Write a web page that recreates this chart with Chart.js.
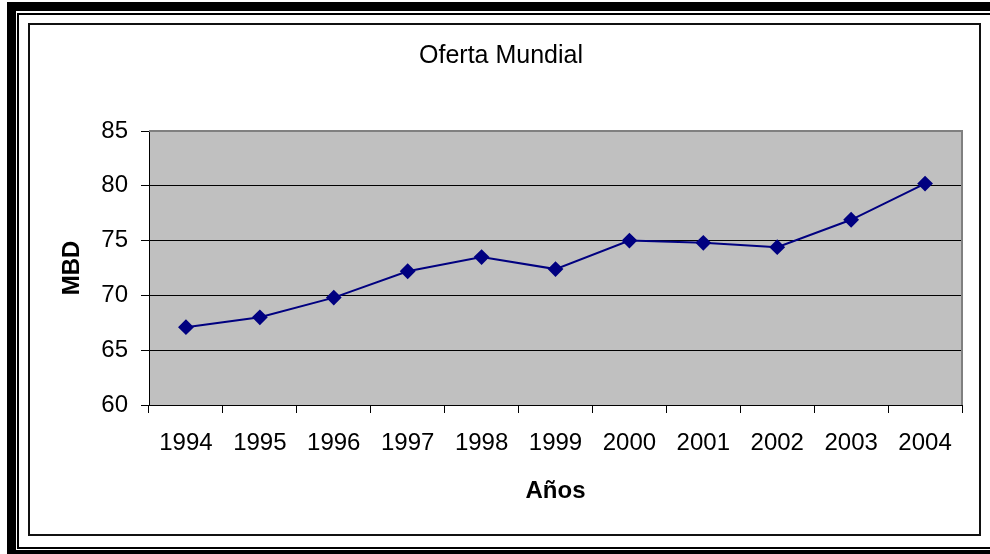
<!DOCTYPE html>
<html lang="es">
<head>
    <meta charset="UTF-8">
    <title>Oferta Mundial</title>
    <style>
        body {
            margin: 0;
            background-color: #FFFFFF;
        }
        #chartBox {
            width: 990px;
            height: 554px;
        }
    </style>
    <script src="https://cdn.jsdelivr.net/npm/chart.js"></script>
</head>
<body>
    <div id="chartBox">
        <canvas id="myChart" width="990" height="554"></canvas>
    </div>

    <script>
        // Datos del gráfico
        var anios = ['1994', '1995', '1996', '1997', '1998', '1999', '2000', '2001', '2002', '2003', '2004'];
        var oferta = [67.1, 68.0, 69.8, 72.2, 73.5, 72.4, 75.0, 74.8, 74.4, 76.9, 80.2];
        var yTicks = [60, 65, 70, 75, 80, 85];

        var fuente = '"Liberation Sans", Arial, sans-serif';

        // Marco de la página y fondo gris del área de trazado
        var marcoPlugin = {
            id: 'marco',
            beforeDraw: function(chart) {
                var ctx = chart.ctx;
                var a = chart.chartArea;
                ctx.save();
                ctx.fillStyle = '#FFFFFF';
                ctx.fillRect(0, 0, chart.width, chart.height);

                // borde grueso exterior
                ctx.fillStyle = '#000000';
                ctx.fillRect(7, 2, chart.width - 7, 9);
                ctx.fillRect(7, 2, 9, chart.height - 2);
                ctx.fillRect(7, 550, chart.width - 7, 4);
                // línea fina
                ctx.fillRect(17, 13, chart.width - 17, 2);
                ctx.fillRect(17, 13, 2, 536);
                ctx.fillRect(17, 547, chart.width - 17, 2);
                // marco interior
                ctx.lineWidth = 2;
                ctx.strokeStyle = '#111111';
                ctx.strokeRect(29, 24, 951, 511);

                ctx.fillStyle = '#C0C0C0';
                ctx.fillRect(a.left, a.top, a.right - a.left, a.bottom - a.top);
                ctx.restore();
            },
            beforeDatasetsDraw: function(chart) {
                var ctx = chart.ctx;
                var a = chart.chartArea;
                ctx.save();
                ctx.strokeStyle = '#808080';
                ctx.lineWidth = 2;
                ctx.beginPath();
                ctx.moveTo(a.left, a.top);
                ctx.lineTo(a.right, a.top);
                ctx.lineTo(a.right, a.bottom);
                ctx.stroke();
                ctx.restore();
            }
        };

        var ctx = document.getElementById('myChart').getContext('2d');
        var myChart = new Chart(ctx, {
            type: 'line',
            data: {
                labels: anios,
                datasets: [{
                    label: 'Oferta Mundial',
                    data: oferta,
                    borderColor: '#000080',
                    backgroundColor: '#000080',
                    borderWidth: 2,
                    fill: false,
                    tension: 0,
                    pointStyle: 'rectRot',
                    pointRadius: 6.5,
                    pointHoverRadius: 6.5,
                    pointBackgroundColor: '#000080',
                    pointBorderColor: '#000080'
                }]
            },
            plugins: [marcoPlugin],
            options: {
                responsive: false,
                animation: false,
                layout: {
                    padding: { left: 40, right: 28, top: 24, bottom: 48 }
                },
                plugins: {
                    legend: { display: false },
                    tooltip: { enabled: false },
                    title: {
                        display: true,
                        text: 'Oferta Mundial',
                        color: '#000000',
                        font: { family: fuente, size: 25, weight: 'normal' },
                        padding: { top: 17, bottom: 60 }
                    }
                },
                scales: {
                    x: {
                        offset: true,
                        grid: {
                            offset: true,
                            drawOnChartArea: false,
                            drawTicks: true,
                            tickLength: 8,
                            tickColor: '#000000'
                        },
                        border: { color: '#000000', width: 1 },
                        ticks: {
                            color: '#000000',
                            font: { family: fuente, size: 24 },
                            padding: 16,
                            maxRotation: 0,
                            autoSkip: false
                        },
                        title: {
                            display: true,
                            text: 'Años',
                            color: '#000000',
                            font: { family: fuente, size: 24, weight: 'bold' },
                            padding: { top: 0, bottom: 0 }
                        },
                        afterFit: function(scale) {
                            scale.height = 101;
                        }
                    },
                    y: {
                        min: yTicks[0],
                        max: yTicks[yTicks.length - 1],
                        grid: {
                            color: function(c) {
                                return c.tick && c.tick.value === 85 ? '#808080' : '#000000';
                            },
                            lineWidth: 1,
                            tickLength: 8,
                            tickColor: '#000000'
                        },
                        border: { color: '#000000', width: 1 },
                        afterBuildTicks: function(scale) {
                            scale.ticks = yTicks.map(function(v) { return { value: v }; });
                        },
                        ticks: {
                            color: '#000000',
                            font: { family: fuente, size: 24 },
                            padding: 13
                        },
                        title: {
                            display: true,
                            text: 'MBD',
                            color: '#000000',
                            font: { family: fuente, size: 24, weight: 'bold' },
                            padding: { top: 18, bottom: 0 }
                        },
                        afterFit: function(scale) {
                            scale.width = 109;
                        }
                    }
                }
            }
        });
    </script>
</body>
</html>
